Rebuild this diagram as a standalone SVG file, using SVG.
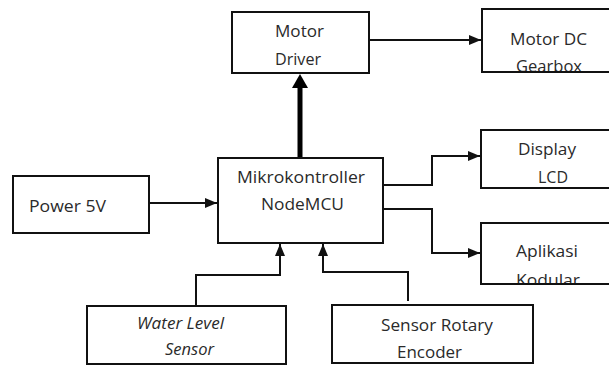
<svg xmlns="http://www.w3.org/2000/svg" width="609" height="365" viewBox="0 0 609 365">
<style>
.box{fill:#fff;stroke:#111;stroke-width:2}
.t{font-family:"Open Sans","Noto Sans",sans-serif;font-size:16px;fill:#2a2a2a}
.i{font-style:italic}
.c{fill:none;stroke:#111;stroke-width:2}
.thick{fill:none;stroke:#000;stroke-width:5}
</style>
<defs>
<marker id="a" markerUnits="userSpaceOnUse" markerWidth="12" markerHeight="10" refX="12" refY="5" orient="auto"><path d="M0,0L12,5L0,10Z" fill="#111"/></marker>
<marker id="ab" markerUnits="userSpaceOnUse" markerWidth="16" markerHeight="16" refX="0" refY="8" orient="auto"><path d="M0,0L14,8L0,16Z" fill="#000"/></marker>
<clipPath id="ck"><rect x="482" y="223" width="130" height="60"/></clipPath>
<clipPath id="cg"><rect x="482" y="9" width="130" height="62"/></clipPath>
</defs>
<g id="connectors">
<path class="thick" d="M300,157V88" marker-end="url(#ab)"/>
<path class="c" d="M369,40H481" marker-end="url(#a)"/>
<path class="c" d="M149,203H217" marker-end="url(#a)"/>
<path class="c" d="M383,185H432V156H480" marker-end="url(#a)"/>
<path class="c" d="M383,209H432V253H480" marker-end="url(#a)"/>
<path class="c" d="M196,306V275H280V244" marker-end="url(#a)"/>
<path class="c" d="M408,301V272H323V244" marker-end="url(#a)"/>
</g>
<g id="motor-driver">
<rect class="box" x="232" y="12" width="137" height="61"/>
<text class="t" x="275" y="37" textLength="49" lengthAdjust="spacingAndGlyphs">Motor</text>
<text class="t" x="275" y="65" textLength="46" lengthAdjust="spacingAndGlyphs">Driver</text>
</g>
<g id="motor-dc">
<rect class="box" x="482" y="9" width="140" height="63"/>
<g clip-path="url(#cg)">
<text class="t" x="510" y="45" textLength="77" lengthAdjust="spacingAndGlyphs">Motor DC</text>
<text class="t" x="516" y="72" textLength="66" lengthAdjust="spacingAndGlyphs">Gearbox</text>
</g>
</g>
<g id="power">
<rect class="box" x="13" y="176" width="136" height="57"/>
<text class="t" x="29" y="212" textLength="77" lengthAdjust="spacingAndGlyphs">Power 5V</text>
</g>
<g id="mikrokontroller">
<rect class="box" x="218" y="158" width="165" height="85"/>
<text class="t" x="237" y="183" textLength="128" lengthAdjust="spacingAndGlyphs">Mikrokontroller</text>
<text class="t" x="261" y="210" textLength="83" lengthAdjust="spacingAndGlyphs">NodeMCU</text>
</g>
<g id="display">
<rect class="box" x="481" y="130" width="140" height="58"/>
<text class="t" x="518" y="155" textLength="58" lengthAdjust="spacingAndGlyphs">Display</text>
<text class="t" x="538" y="183" textLength="30" lengthAdjust="spacingAndGlyphs">LCD</text>
</g>
<g id="aplikasi">
<rect class="box" x="481" y="223" width="140" height="61"/>
<g clip-path="url(#ck)">
<text class="t" x="516" y="257" textLength="62" lengthAdjust="spacingAndGlyphs">Aplikasi</text>
<text class="t" x="516" y="286" textLength="64" lengthAdjust="spacingAndGlyphs">Kodular</text>
</g>
</g>
<g id="water-level">
<rect class="box" x="87" y="306" width="199" height="58"/>
<text class="t i" x="137" y="329" textLength="87" lengthAdjust="spacingAndGlyphs">Water Level</text>
<text class="t i" x="165" y="355" textLength="49" lengthAdjust="spacingAndGlyphs">Sensor</text>
</g>
<g id="rotary">
<rect class="box" x="332" y="305" width="201" height="58"/>
<text class="t" x="381" y="331" textLength="112" lengthAdjust="spacingAndGlyphs">Sensor Rotary</text>
<text class="t" x="397" y="358" textLength="65" lengthAdjust="spacingAndGlyphs">Encoder</text>
</g>
</svg>
